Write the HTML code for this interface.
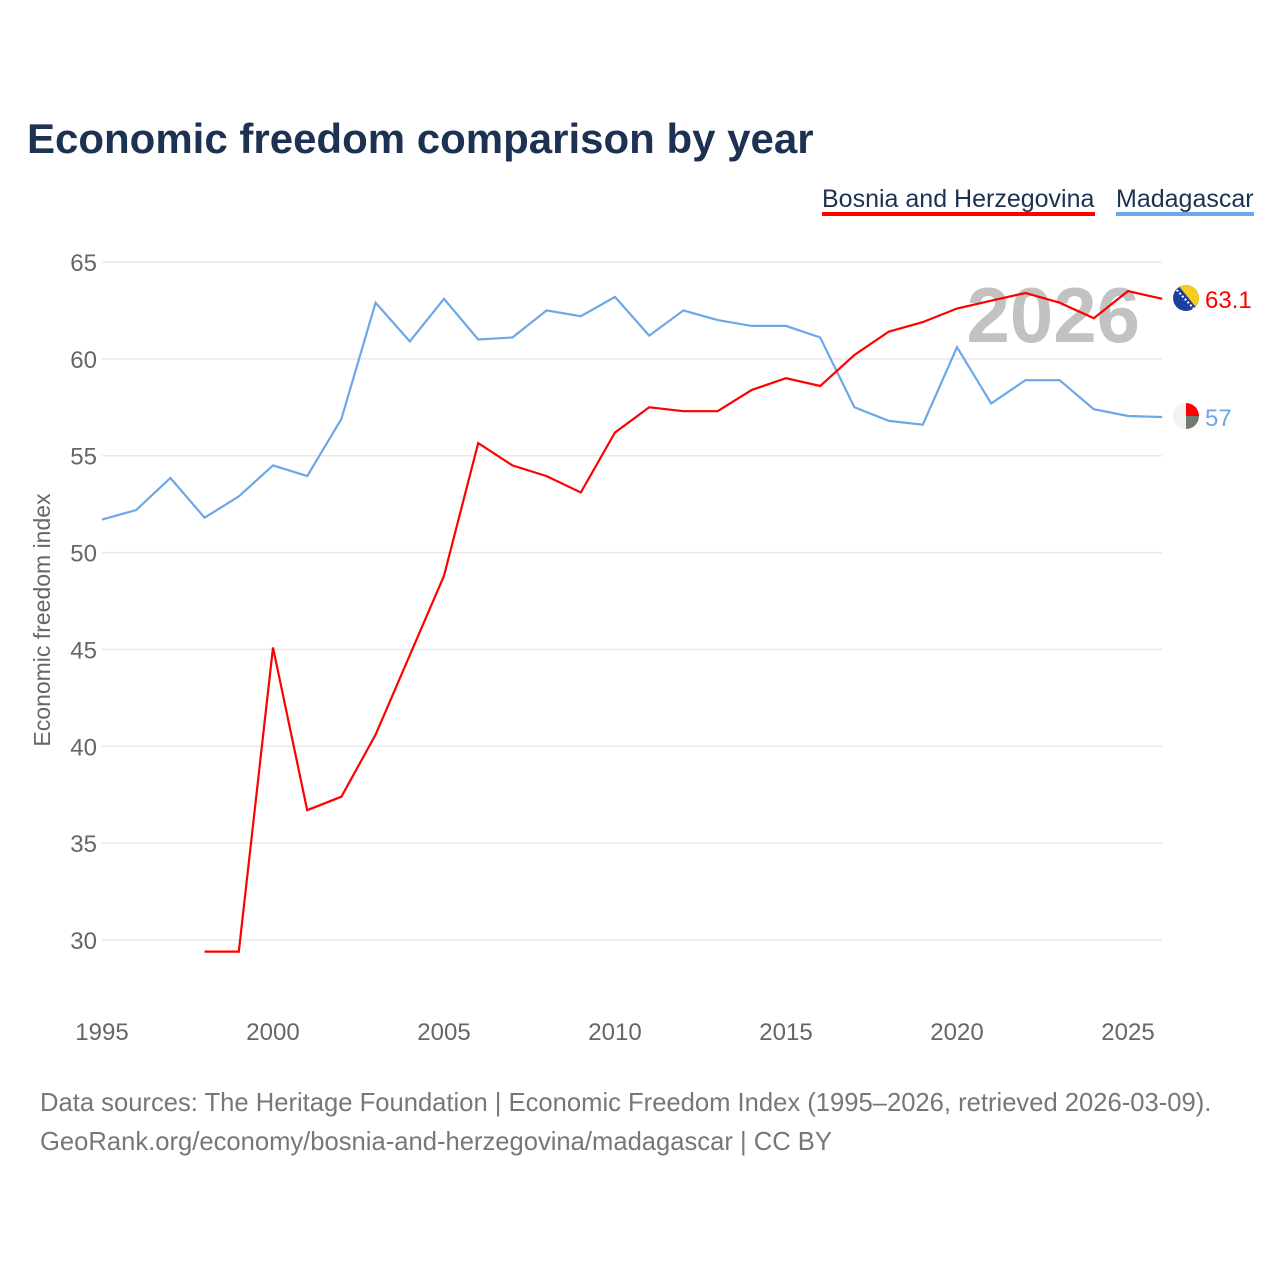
<!DOCTYPE html>
<html><head><meta charset="utf-8"><style>
body{margin:0;background:#fff;width:1280px;height:1280px;overflow:hidden;font-family:"Liberation Sans",sans-serif}
</style></head><body>
<svg id="chart" width="1280" height="1280" xmlns="http://www.w3.org/2000/svg" font-family="Liberation Sans, sans-serif">
<text x="27" y="153" font-size="42" font-weight="bold" fill="#1d3152">Economic freedom comparison by year</text>
<g>
<text x="822" y="207" font-size="25" fill="#1d3152">Bosnia and Herzegovina</text>
<rect x="822" y="212" width="273" height="4" fill="#f00"/></g>
<g>
<text x="1116" y="207" font-size="25" fill="#1d3152">Madagascar</text>
<rect x="1116" y="212" width="138" height="4" fill="#6aa8e8"/></g>
<text transform="translate(50,620) rotate(-90)" text-anchor="middle" font-size="23" fill="#666">Economic freedom index</text>
<text x="1140" y="342" text-anchor="end" font-size="78" font-weight="bold" fill="#c2c2c2">2026</text>
<g id="grid"></g><g id="xt"></g><g id="lines"></g>
<defs>
<clipPath id="cb"><circle cx="1186" cy="298" r="13"/></clipPath>
<clipPath id="cm"><circle cx="1186" cy="416" r="13"/></clipPath>
</defs>
<g clip-path="url(#cb)">
<rect x="1173" y="285" width="26" height="26" fill="#1f3fa0"/>
<polygon points="1178,285 1199,285 1199,311" fill="#f7cc1e"/>
<line x1="1174" y1="287" x2="1196" y2="311" stroke="#fff" stroke-width="2" stroke-dasharray="2,2"/>
</g>
<g clip-path="url(#cm)">
<rect x="1173" y="403" width="26" height="26" fill="#f2f2f2"/>
<rect x="1186" y="403" width="13" height="13" fill="#f00"/>
<rect x="1186" y="416" width="13" height="13" fill="#6e7d70"/>
</g>
<text x="40" y="1111" font-size="25.6" fill="#777">Data sources: The Heritage Foundation | Economic Freedom Index (1995–2026, retrieved 2026-03-09).</text>
<text x="40" y="1150" font-size="25.6" fill="#777">GeoRank.org/economy/bosnia-and-herzegovina/madagascar | CC BY</text>
</svg>
<script>
const yTicks=[30,35,40,45,50,55,60,65];
const xTicks=[1995,2000,2005,2010,2015,2020,2025];
const years=[1995,1996,1997,1998,1999,2000,2001,2002,2003,2004,2005,2006,2007,2008,2009,2010,2011,2012,2013,2014,2015,2016,2017,2018,2019,2020,2021,2022,2023,2024,2025,2026];
const madagascar=[51.7,52.2,53.85,51.8,52.9,54.5,53.95,56.9,62.9,60.9,63.1,61.0,61.1,62.5,62.2,63.2,61.2,62.5,62.0,61.7,61.7,61.1,57.5,56.8,56.6,60.6,57.7,58.9,58.9,57.4,57.05,57.0];
const bosnia=[null,null,null,29.4,29.4,45.1,36.7,37.4,40.6,44.7,48.8,55.65,54.5,53.95,53.1,56.2,57.5,57.3,57.3,58.4,59.0,58.6,60.2,61.4,61.9,62.6,63.0,63.4,62.9,62.1,63.5,63.1];
const NS="http://www.w3.org/2000/svg";
const X=v=>102+(v-1995)*(1128-102)/30;
const Y=v=>262+(65-v)*(940-262)/35;
function mk(t,a,p){const e=document.createElementNS(NS,t);for(const k in a)e.setAttribute(k,a[k]);p.appendChild(e);return e;}
const grid=document.getElementById('grid'),xt=document.getElementById('xt'),lines=document.getElementById('lines');
yTicks.forEach(v=>{
 const l=mk('line',{x1:102,x2:1162,y1:Y(v),y2:Y(v),stroke:'#e8e8e8','stroke-width':1.5},grid);
 
 
 const t=mk('text',{x:97,y:Y(v)+9,'text-anchor':'end','font-size':24,fill:'#666'},grid);t.textContent=v;
 
 
});
xTicks.forEach(v=>{
 const t=mk('text',{x:X(v),y:1040,'text-anchor':'middle','font-size':24,fill:'#666'},xt);t.textContent=v;
 
 
});
function path(vals){let d='',s=false;vals.forEach((v,i)=>{if(v==null){s=false;return;}d+=(s?'L':'M')+X(years[i]).toFixed(1)+','+Y(v).toFixed(1);s=true;});return d;}
const pm=mk('path',{d:path(madagascar),fill:'none',stroke:'#6aa8e8','stroke-width':2.2},lines);


const pb=mk('path',{d:path(bosnia),fill:'none',stroke:'#f00','stroke-width':2.2},lines);


function end(vals,col,name,label){
 const v=vals[vals.length-1],cy=Y(v);
 const t=mk('text',{x:1205,y:cy+9,'font-size':24,fill:col},lines);t.textContent=label;
 
 
}
end(bosnia,'#f00','bosnia','63.1');
end(madagascar,'#6aa8e8','madagascar','57');
</script>
</body></html>
